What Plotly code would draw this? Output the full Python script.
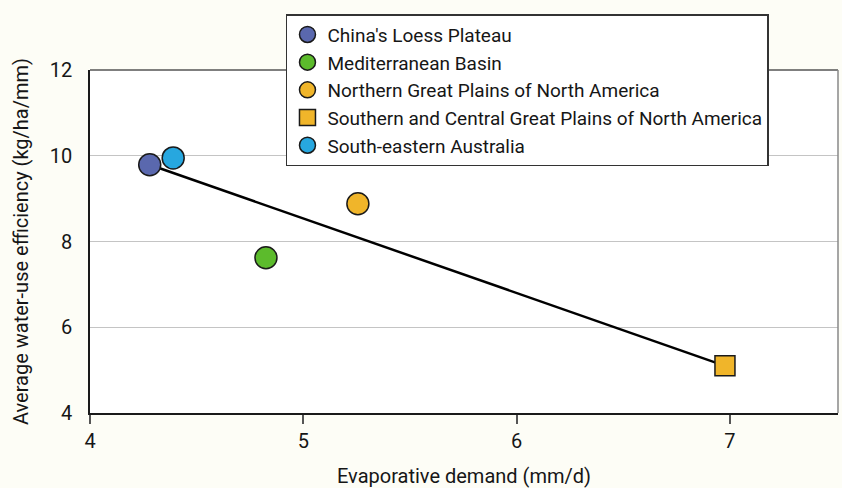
import plotly.graph_objects as go

regions = ["China's Loess Plateau", "Mediterranean Basin", "Northern Great Plains of North America",
           "Southern and Central Great Plains of North America", "South-eastern Australia"]
evap_demand = [4.28, 4.825, 5.256, 6.977, 4.39]
wue = [9.79, 7.62, 8.88, 5.10, 9.95]
colors = ["#5a68ae", "#5cbb2c", "#f0b52a", "#f0b52a", "#27a7df"]
symbols = ["circle", "circle", "circle", "square", "circle"]

trend_x = [evap_demand[0], evap_demand[3]]
trend_y = [wue[0], wue[3]]

FONT = "Roboto, Liberation Sans, sans-serif"

fig = go.Figure()
fig.add_trace(go.Scatter(x=trend_x, y=trend_y, mode="lines",
                         line=dict(color="black", width=2.5), showlegend=False, hoverinfo="skip"))
for name, x, y, c, s in zip(regions, evap_demand, wue, colors, symbols):
    fig.add_trace(go.Scatter(x=[x], y=[y], mode="markers", name=name,
                             marker=dict(color=c, symbol=s, size=22 if s == "circle" else 20,
                                         line=dict(color="#1a1a1a", width=1.5))))

fig.update_layout(
    width=842, height=488,
    margin=dict(l=90, r=4, t=70, b=75),
    paper_bgcolor="#fdfdf6", plot_bgcolor="white",
    font=dict(family=FONT, size=20, color="#161616"),
    legend=dict(x=0.262, y=1.163, xanchor="left", yanchor="top",
                bgcolor="white", bordercolor="#333333", borderwidth=1.5,
                font=dict(family=FONT, size=19, color="#161616"),
                tracegroupgap=0, itemsizing="trace"),
    xaxis=dict(range=[4, 7.507], tickvals=[4, 5, 6, 7], showgrid=False, zeroline=False,
               showline=True, linecolor="#1a1a1a", linewidth=1.5,
               ticks="outside", ticklen=9, tickcolor="#555555", tickwidth=1.5,
               title=dict(text="Evaporative demand (mm/d)", standoff=18, font=dict(size=20)),
               tickfont=dict(size=20)),
    yaxis=dict(range=[4, 12], tickvals=[4, 6, 8, 10, 12], showgrid=True, gridcolor="#c4c4c4",
               gridwidth=1.2, zeroline=False, showline=True, linecolor="#1a1a1a", linewidth=1.5,
               ticks="", ticklabelstandoff=12,
               title=dict(text="Average water-use efficiency (kg/ha/mm)", standoff=16,
                          font=dict(size=20)),
               tickfont=dict(size=20)),
    shapes=[
        dict(type="line", xref="paper", yref="paper", x0=0, x1=1, y0=1, y1=1,
             line=dict(color="#555555", width=1.5)),
        dict(type="line", xref="paper", yref="paper", x0=1, x1=1, y0=0, y1=1,
             line=dict(color="#888888", width=1.5)),
    ],
)

fig.write_html("out.html")
